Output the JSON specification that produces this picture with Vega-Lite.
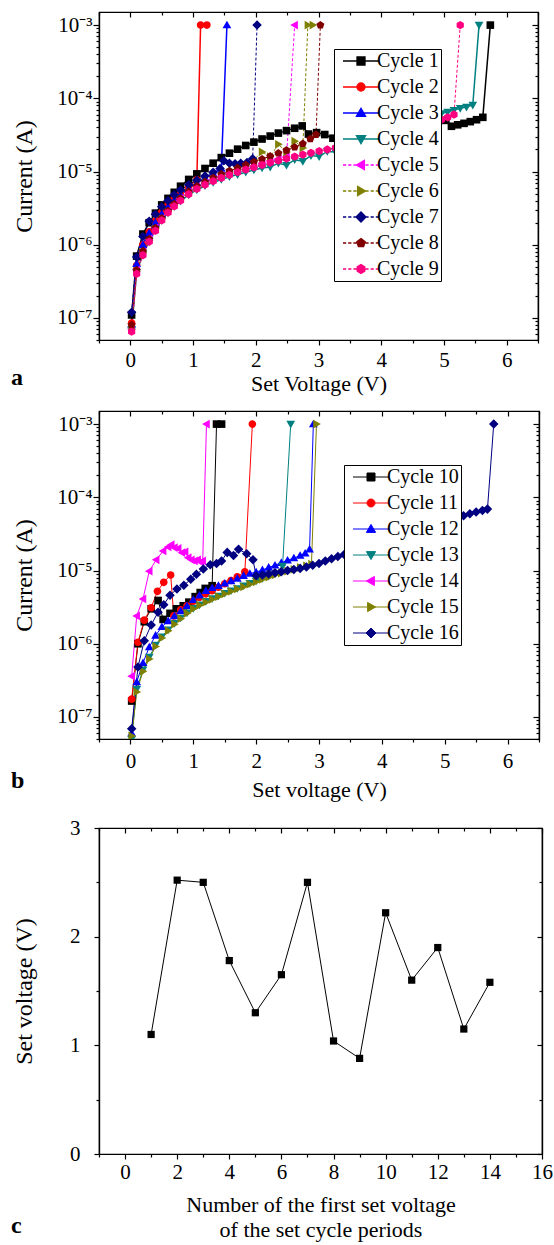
{
"$schema": "https://vega.github.io/schema/vega-lite/v6.json",
"padding": {"left": 10, "top": 10, "right": 5, "bottom": 0},
"datasets": {
"a": [
{"cycle":"Cycle 1","v":0.02,"i":1.1e-7},{"cycle":"Cycle 1","v":0.1,"i":7.0e-7},{"cycle":"Cycle 1","v":0.2,"i":1.4e-6},{"cycle":"Cycle 1","v":0.3,"i":2.0e-6},{"cycle":"Cycle 1","v":0.4,"i":2.7e-6},{"cycle":"Cycle 1","v":0.5,"i":3.5e-6},{"cycle":"Cycle 1","v":0.6,"i":4.3e-6},{"cycle":"Cycle 1","v":0.7,"i":5.2e-6},{"cycle":"Cycle 1","v":0.8,"i":6.3e-6},{"cycle":"Cycle 1","v":0.93,"i":7.8e-6},{"cycle":"Cycle 1","v":1.06,"i":9.3e-6},{"cycle":"Cycle 1","v":1.19,"i":1.1e-5},{"cycle":"Cycle 1","v":1.32,"i":1.3e-5},{"cycle":"Cycle 1","v":1.45,"i":1.55e-5},{"cycle":"Cycle 1","v":1.58,"i":1.78e-5},{"cycle":"Cycle 1","v":1.71,"i":2.02e-5},{"cycle":"Cycle 1","v":1.84,"i":2.27e-5},{"cycle":"Cycle 1","v":1.97,"i":2.52e-5},{"cycle":"Cycle 1","v":2.1,"i":2.78e-5},{"cycle":"Cycle 1","v":2.23,"i":3.05e-5},{"cycle":"Cycle 1","v":2.36,"i":3.35e-5},{"cycle":"Cycle 1","v":2.49,"i":3.62e-5},{"cycle":"Cycle 1","v":2.62,"i":3.9e-5},{"cycle":"Cycle 1","v":2.74,"i":4.2e-5},{"cycle":"Cycle 1","v":2.84,"i":3.25e-5},{"cycle":"Cycle 1","v":2.97,"i":3.4e-5},{"cycle":"Cycle 1","v":3.1,"i":3.2e-5},{"cycle":"Cycle 1","v":3.23,"i":2.85e-5},{"cycle":"Cycle 1","v":3.36,"i":2.9e-5},{"cycle":"Cycle 1","v":3.49,"i":3.0e-5},{"cycle":"Cycle 1","v":3.62,"i":3.1e-5},{"cycle":"Cycle 1","v":3.75,"i":3.25e-5},{"cycle":"Cycle 1","v":3.88,"i":3.4e-5},{"cycle":"Cycle 1","v":4.01,"i":3.6e-5},{"cycle":"Cycle 1","v":4.14,"i":3.8e-5},{"cycle":"Cycle 1","v":4.27,"i":4.0e-5},{"cycle":"Cycle 1","v":4.4,"i":4.2e-5},{"cycle":"Cycle 1","v":4.53,"i":4.4e-5},{"cycle":"Cycle 1","v":4.66,"i":4.6e-5},{"cycle":"Cycle 1","v":4.79,"i":4.8e-5},{"cycle":"Cycle 1","v":4.92,"i":5.0e-5},{"cycle":"Cycle 1","v":5.03,"i":5.0e-5},{"cycle":"Cycle 1","v":5.12,"i":4.15e-5},{"cycle":"Cycle 1","v":5.22,"i":4.35e-5},{"cycle":"Cycle 1","v":5.32,"i":4.55e-5},{"cycle":"Cycle 1","v":5.42,"i":4.8e-5},{"cycle":"Cycle 1","v":5.52,"i":5.1e-5},{"cycle":"Cycle 1","v":5.62,"i":5.5e-5},{"cycle":"Cycle 1","v":5.74,"i":1e-3},
{"cycle":"Cycle 2","v":0.02,"i":8.5e-8},{"cycle":"Cycle 2","v":0.1,"i":5.2e-7},{"cycle":"Cycle 2","v":0.2,"i":1.0e-6},{"cycle":"Cycle 2","v":0.3,"i":1.5e-6},{"cycle":"Cycle 2","v":0.4,"i":2.1e-6},{"cycle":"Cycle 2","v":0.5,"i":2.8e-6},{"cycle":"Cycle 2","v":0.6,"i":3.5e-6},{"cycle":"Cycle 2","v":0.7,"i":4.3e-6},{"cycle":"Cycle 2","v":0.8,"i":5.1e-6},{"cycle":"Cycle 2","v":0.93,"i":6.3e-6},{"cycle":"Cycle 2","v":1.06,"i":7.7e-6},{"cycle":"Cycle 2","v":1.12,"i":1e-3},{"cycle":"Cycle 2","v":1.22,"i":1e-3},
{"cycle":"Cycle 3","v":0.02,"i":8e-8},{"cycle":"Cycle 3","v":0.1,"i":5.5e-7},{"cycle":"Cycle 3","v":0.2,"i":1.0e-6},{"cycle":"Cycle 3","v":0.3,"i":1.45e-6},{"cycle":"Cycle 3","v":0.4,"i":2.0e-6},{"cycle":"Cycle 3","v":0.5,"i":2.65e-6},{"cycle":"Cycle 3","v":0.6,"i":3.3e-6},{"cycle":"Cycle 3","v":0.7,"i":4.0e-6},{"cycle":"Cycle 3","v":0.8,"i":4.8e-6},{"cycle":"Cycle 3","v":0.93,"i":5.9e-6},{"cycle":"Cycle 3","v":1.06,"i":7.0e-6},{"cycle":"Cycle 3","v":1.19,"i":8.2e-6},{"cycle":"Cycle 3","v":1.32,"i":9.5e-6},{"cycle":"Cycle 3","v":1.45,"i":1.1e-5},{"cycle":"Cycle 3","v":1.54,"i":1e-3},
{"cycle":"Cycle 4","v":0.02,"i":7e-8},{"cycle":"Cycle 4","v":0.1,"i":4.2e-7},{"cycle":"Cycle 4","v":0.2,"i":7.5e-7},{"cycle":"Cycle 4","v":0.3,"i":1.12e-6},{"cycle":"Cycle 4","v":0.4,"i":1.6e-6},{"cycle":"Cycle 4","v":0.5,"i":2.15e-6},{"cycle":"Cycle 4","v":0.6,"i":2.75e-6},{"cycle":"Cycle 4","v":0.7,"i":3.35e-6},{"cycle":"Cycle 4","v":0.8,"i":3.95e-6},{"cycle":"Cycle 4","v":0.93,"i":4.8e-6},{"cycle":"Cycle 4","v":1.06,"i":5.6e-6},{"cycle":"Cycle 4","v":1.19,"i":6.4e-6},{"cycle":"Cycle 4","v":1.32,"i":7.1e-6},{"cycle":"Cycle 4","v":1.45,"i":7.8e-6},{"cycle":"Cycle 4","v":1.58,"i":8.5e-6},{"cycle":"Cycle 4","v":1.71,"i":9.1e-6},{"cycle":"Cycle 4","v":1.84,"i":9.8e-6},{"cycle":"Cycle 4","v":1.97,"i":1.05e-5},{"cycle":"Cycle 4","v":2.1,"i":1.12e-5},{"cycle":"Cycle 4","v":2.23,"i":1.15e-5},{"cycle":"Cycle 4","v":2.36,"i":1.3e-5},{"cycle":"Cycle 4","v":2.49,"i":1.22e-5},{"cycle":"Cycle 4","v":2.62,"i":1.45e-5},{"cycle":"Cycle 4","v":2.75,"i":1.38e-5},{"cycle":"Cycle 4","v":2.88,"i":1.65e-5},{"cycle":"Cycle 4","v":3.01,"i":1.6e-5},{"cycle":"Cycle 4","v":3.14,"i":1.88e-5},{"cycle":"Cycle 4","v":3.27,"i":1.85e-5},{"cycle":"Cycle 4","v":3.4,"i":2.2e-5},{"cycle":"Cycle 4","v":3.53,"i":2.35e-5},{"cycle":"Cycle 4","v":3.66,"i":2.55e-5},{"cycle":"Cycle 4","v":3.79,"i":2.75e-5},{"cycle":"Cycle 4","v":3.92,"i":3.0e-5},{"cycle":"Cycle 4","v":4.05,"i":3.25e-5},{"cycle":"Cycle 4","v":4.18,"i":3.55e-5},{"cycle":"Cycle 4","v":4.31,"i":3.9e-5},{"cycle":"Cycle 4","v":4.44,"i":4.25e-5},{"cycle":"Cycle 4","v":4.57,"i":4.65e-5},{"cycle":"Cycle 4","v":4.7,"i":5.1e-5},{"cycle":"Cycle 4","v":4.83,"i":5.6e-5},{"cycle":"Cycle 4","v":4.96,"i":6.2e-5},{"cycle":"Cycle 4","v":5.06,"i":6.5e-5},{"cycle":"Cycle 4","v":5.16,"i":6.9e-5},{"cycle":"Cycle 4","v":5.26,"i":7.3e-5},{"cycle":"Cycle 4","v":5.36,"i":7.6e-5},{"cycle":"Cycle 4","v":5.46,"i":8.1e-5},{"cycle":"Cycle 4","v":5.56,"i":1e-3},
{"cycle":"Cycle 5","v":0.02,"i":7e-8},{"cycle":"Cycle 5","v":0.1,"i":4.5e-7},{"cycle":"Cycle 5","v":0.2,"i":8e-7},{"cycle":"Cycle 5","v":0.3,"i":1.2e-6},{"cycle":"Cycle 5","v":0.4,"i":1.7e-6},{"cycle":"Cycle 5","v":0.5,"i":2.3e-6},{"cycle":"Cycle 5","v":0.6,"i":2.9e-6},{"cycle":"Cycle 5","v":0.7,"i":3.6e-6},{"cycle":"Cycle 5","v":0.8,"i":4.3e-6},{"cycle":"Cycle 5","v":0.93,"i":5.2e-6},{"cycle":"Cycle 5","v":1.06,"i":6.1e-6},{"cycle":"Cycle 5","v":1.19,"i":7.0e-6},{"cycle":"Cycle 5","v":1.32,"i":7.8e-6},{"cycle":"Cycle 5","v":1.45,"i":8.6e-6},{"cycle":"Cycle 5","v":1.58,"i":9.5e-6},{"cycle":"Cycle 5","v":1.71,"i":1.03e-5},{"cycle":"Cycle 5","v":1.84,"i":1.12e-5},{"cycle":"Cycle 5","v":1.97,"i":1.2e-5},{"cycle":"Cycle 5","v":2.1,"i":1.3e-5},{"cycle":"Cycle 5","v":2.23,"i":1.4e-5},{"cycle":"Cycle 5","v":2.36,"i":1.5e-5},{"cycle":"Cycle 5","v":2.49,"i":1.6e-5},{"cycle":"Cycle 5","v":2.62,"i":1e-3},
{"cycle":"Cycle 6","v":0.02,"i":7e-8},{"cycle":"Cycle 6","v":0.1,"i":4.3e-7},{"cycle":"Cycle 6","v":0.2,"i":7.8e-7},{"cycle":"Cycle 6","v":0.3,"i":1.15e-6},{"cycle":"Cycle 6","v":0.4,"i":1.65e-6},{"cycle":"Cycle 6","v":0.5,"i":2.25e-6},{"cycle":"Cycle 6","v":0.6,"i":2.85e-6},{"cycle":"Cycle 6","v":0.7,"i":3.5e-6},{"cycle":"Cycle 6","v":0.8,"i":4.2e-6},{"cycle":"Cycle 6","v":0.93,"i":5.1e-6},{"cycle":"Cycle 6","v":1.06,"i":6.0e-6},{"cycle":"Cycle 6","v":1.19,"i":6.9e-6},{"cycle":"Cycle 6","v":1.32,"i":7.8e-6},{"cycle":"Cycle 6","v":1.45,"i":8.7e-6},{"cycle":"Cycle 6","v":1.58,"i":9.6e-6},{"cycle":"Cycle 6","v":1.71,"i":1.06e-5},{"cycle":"Cycle 6","v":1.84,"i":1.2e-5},{"cycle":"Cycle 6","v":1.97,"i":1.45e-5},{"cycle":"Cycle 6","v":2.1,"i":1.85e-5},{"cycle":"Cycle 6","v":2.23,"i":1.6e-5},{"cycle":"Cycle 6","v":2.36,"i":2.35e-5},{"cycle":"Cycle 6","v":2.49,"i":1.85e-5},{"cycle":"Cycle 6","v":2.62,"i":2.6e-5},{"cycle":"Cycle 6","v":2.75,"i":2.1e-5},{"cycle":"Cycle 6","v":2.83,"i":1e-3},{"cycle":"Cycle 6","v":2.91,"i":1e-3},
{"cycle":"Cycle 7","v":0.02,"i":1.2e-7},{"cycle":"Cycle 7","v":0.1,"i":6.8e-7},{"cycle":"Cycle 7","v":0.2,"i":1.3e-6},{"cycle":"Cycle 7","v":0.3,"i":2.1e-6},{"cycle":"Cycle 7","v":0.4,"i":2.6e-6},{"cycle":"Cycle 7","v":0.5,"i":3.3e-6},{"cycle":"Cycle 7","v":0.6,"i":4.0e-6},{"cycle":"Cycle 7","v":0.7,"i":4.8e-6},{"cycle":"Cycle 7","v":0.8,"i":5.6e-6},{"cycle":"Cycle 7","v":0.93,"i":6.6e-6},{"cycle":"Cycle 7","v":1.06,"i":7.6e-6},{"cycle":"Cycle 7","v":1.19,"i":8.7e-6},{"cycle":"Cycle 7","v":1.32,"i":9.8e-6},{"cycle":"Cycle 7","v":1.43,"i":1.1e-5},{"cycle":"Cycle 7","v":1.49,"i":1.4e-5},{"cycle":"Cycle 7","v":1.58,"i":1.3e-5},{"cycle":"Cycle 7","v":1.67,"i":1.28e-5},{"cycle":"Cycle 7","v":1.76,"i":1.3e-5},{"cycle":"Cycle 7","v":1.86,"i":1.33e-5},{"cycle":"Cycle 7","v":1.95,"i":1.5e-5},{"cycle":"Cycle 7","v":2.02,"i":1e-3},
{"cycle":"Cycle 8","v":0.02,"i":8e-8},{"cycle":"Cycle 8","v":0.1,"i":4.5e-7},{"cycle":"Cycle 8","v":0.2,"i":8.2e-7},{"cycle":"Cycle 8","v":0.3,"i":1.2e-6},{"cycle":"Cycle 8","v":0.4,"i":1.7e-6},{"cycle":"Cycle 8","v":0.5,"i":2.3e-6},{"cycle":"Cycle 8","v":0.6,"i":2.9e-6},{"cycle":"Cycle 8","v":0.7,"i":3.6e-6},{"cycle":"Cycle 8","v":0.8,"i":4.3e-6},{"cycle":"Cycle 8","v":0.93,"i":5.3e-6},{"cycle":"Cycle 8","v":1.06,"i":6.3e-6},{"cycle":"Cycle 8","v":1.19,"i":7.2e-6},{"cycle":"Cycle 8","v":1.32,"i":8.2e-6},{"cycle":"Cycle 8","v":1.45,"i":9.2e-6},{"cycle":"Cycle 8","v":1.58,"i":1.02e-5},{"cycle":"Cycle 8","v":1.71,"i":1.12e-5},{"cycle":"Cycle 8","v":1.84,"i":1.23e-5},{"cycle":"Cycle 8","v":1.97,"i":1.35e-5},{"cycle":"Cycle 8","v":2.1,"i":1.48e-5},{"cycle":"Cycle 8","v":2.23,"i":1.62e-5},{"cycle":"Cycle 8","v":2.36,"i":1.78e-5},{"cycle":"Cycle 8","v":2.49,"i":1.95e-5},{"cycle":"Cycle 8","v":2.62,"i":2.15e-5},{"cycle":"Cycle 8","v":2.75,"i":2.4e-5},{"cycle":"Cycle 8","v":2.87,"i":2.8e-5},{"cycle":"Cycle 8","v":2.96,"i":3.2e-5},{"cycle":"Cycle 8","v":3.03,"i":1e-3},
{"cycle":"Cycle 9","v":0.02,"i":6.5e-8},{"cycle":"Cycle 9","v":0.1,"i":4.0e-7},{"cycle":"Cycle 9","v":0.2,"i":7.2e-7},{"cycle":"Cycle 9","v":0.3,"i":1.1e-6},{"cycle":"Cycle 9","v":0.4,"i":1.55e-6},{"cycle":"Cycle 9","v":0.5,"i":2.15e-6},{"cycle":"Cycle 9","v":0.6,"i":2.75e-6},{"cycle":"Cycle 9","v":0.7,"i":3.35e-6},{"cycle":"Cycle 9","v":0.8,"i":4.0e-6},{"cycle":"Cycle 9","v":0.93,"i":4.9e-6},{"cycle":"Cycle 9","v":1.06,"i":5.8e-6},{"cycle":"Cycle 9","v":1.19,"i":6.6e-6},{"cycle":"Cycle 9","v":1.32,"i":7.4e-6},{"cycle":"Cycle 9","v":1.45,"i":8.2e-6},{"cycle":"Cycle 9","v":1.58,"i":9.0e-6},{"cycle":"Cycle 9","v":1.71,"i":9.8e-6},{"cycle":"Cycle 9","v":1.84,"i":1.06e-5},{"cycle":"Cycle 9","v":1.97,"i":1.14e-5},{"cycle":"Cycle 9","v":2.1,"i":1.23e-5},{"cycle":"Cycle 9","v":2.23,"i":1.32e-5},{"cycle":"Cycle 9","v":2.36,"i":1.41e-5},{"cycle":"Cycle 9","v":2.49,"i":1.5e-5},{"cycle":"Cycle 9","v":2.62,"i":1.6e-5},{"cycle":"Cycle 9","v":2.75,"i":1.7e-5},{"cycle":"Cycle 9","v":2.88,"i":1.8e-5},{"cycle":"Cycle 9","v":3.01,"i":1.9e-5},{"cycle":"Cycle 9","v":3.14,"i":2.0e-5},{"cycle":"Cycle 9","v":3.27,"i":2.1e-5},{"cycle":"Cycle 9","v":3.4,"i":2.22e-5},{"cycle":"Cycle 9","v":3.53,"i":2.36e-5},{"cycle":"Cycle 9","v":3.66,"i":2.5e-5},{"cycle":"Cycle 9","v":3.79,"i":2.65e-5},{"cycle":"Cycle 9","v":3.92,"i":2.82e-5},{"cycle":"Cycle 9","v":4.05,"i":3.0e-5},{"cycle":"Cycle 9","v":4.18,"i":3.2e-5},{"cycle":"Cycle 9","v":4.31,"i":3.42e-5},{"cycle":"Cycle 9","v":4.44,"i":3.66e-5},{"cycle":"Cycle 9","v":4.57,"i":3.92e-5},{"cycle":"Cycle 9","v":4.7,"i":4.25e-5},{"cycle":"Cycle 9","v":4.83,"i":4.6e-5},{"cycle":"Cycle 9","v":4.96,"i":5.1e-5},{"cycle":"Cycle 9","v":5.06,"i":5.5e-5},{"cycle":"Cycle 9","v":5.16,"i":6.0e-5},{"cycle":"Cycle 9","v":5.26,"i":1e-3}
],
"b": [
{"cycle":"Cycle 10","v":0.02,"i":1.65e-7},{"cycle":"Cycle 10","v":0.12,"i":1.0e-6},{"cycle":"Cycle 10","v":0.22,"i":2.0e-6},{"cycle":"Cycle 10","v":0.33,"i":3.0e-6},{"cycle":"Cycle 10","v":0.44,"i":3.9e-6},{"cycle":"Cycle 10","v":0.52,"i":2.15e-6},{"cycle":"Cycle 10","v":0.63,"i":2.6e-6},{"cycle":"Cycle 10","v":0.73,"i":3.0e-6},{"cycle":"Cycle 10","v":0.84,"i":3.3e-6},{"cycle":"Cycle 10","v":0.93,"i":3.7e-6},{"cycle":"Cycle 10","v":1.03,"i":4.4e-6},{"cycle":"Cycle 10","v":1.11,"i":5.0e-6},{"cycle":"Cycle 10","v":1.19,"i":5.7e-6},{"cycle":"Cycle 10","v":1.3,"i":6.2e-6},{"cycle":"Cycle 10","v":1.37,"i":1e-3},{"cycle":"Cycle 10","v":1.45,"i":1e-3},
{"cycle":"Cycle 11","v":0.02,"i":1.75e-7},{"cycle":"Cycle 11","v":0.12,"i":1.05e-6},{"cycle":"Cycle 11","v":0.22,"i":2.1e-6},{"cycle":"Cycle 11","v":0.33,"i":3.1e-6},{"cycle":"Cycle 11","v":0.43,"i":5.2e-6},{"cycle":"Cycle 11","v":0.53,"i":6.9e-6},{"cycle":"Cycle 11","v":0.64,"i":8.7e-6},{"cycle":"Cycle 11","v":0.69,"i":2.4e-6},{"cycle":"Cycle 11","v":0.8,"i":2.9e-6},{"cycle":"Cycle 11","v":0.9,"i":3.3e-6},{"cycle":"Cycle 11","v":1.0,"i":3.8e-6},{"cycle":"Cycle 11","v":1.1,"i":4.3e-6},{"cycle":"Cycle 11","v":1.2,"i":4.8e-6},{"cycle":"Cycle 11","v":1.3,"i":5.3e-6},{"cycle":"Cycle 11","v":1.4,"i":5.9e-6},{"cycle":"Cycle 11","v":1.5,"i":6.6e-6},{"cycle":"Cycle 11","v":1.6,"i":7.3e-6},{"cycle":"Cycle 11","v":1.7,"i":8.2e-6},{"cycle":"Cycle 11","v":1.82,"i":9.6e-6},{"cycle":"Cycle 11","v":1.94,"i":1e-3},
{"cycle":"Cycle 12","v":0.02,"i":6e-8},{"cycle":"Cycle 12","v":0.1,"i":3e-7},{"cycle":"Cycle 12","v":0.2,"i":5.5e-7},{"cycle":"Cycle 12","v":0.3,"i":9e-7},{"cycle":"Cycle 12","v":0.4,"i":1.3e-6},{"cycle":"Cycle 12","v":0.5,"i":1.7e-6},{"cycle":"Cycle 12","v":0.6,"i":2.05e-6},{"cycle":"Cycle 12","v":0.7,"i":2.4e-6},{"cycle":"Cycle 12","v":0.8,"i":2.8e-6},{"cycle":"Cycle 12","v":0.9,"i":3.3e-6},{"cycle":"Cycle 12","v":1.0,"i":4.0e-6},{"cycle":"Cycle 12","v":1.1,"i":4.6e-6},{"cycle":"Cycle 12","v":1.2,"i":5.3e-6},{"cycle":"Cycle 12","v":1.3,"i":5.8e-6},{"cycle":"Cycle 12","v":1.4,"i":6.2e-6},{"cycle":"Cycle 12","v":1.5,"i":6.7e-6},{"cycle":"Cycle 12","v":1.6,"i":7.2e-6},{"cycle":"Cycle 12","v":1.7,"i":7.8e-6},{"cycle":"Cycle 12","v":1.8,"i":8.5e-6},{"cycle":"Cycle 12","v":1.9,"i":9.1e-6},{"cycle":"Cycle 12","v":2.0,"i":9.5e-6},{"cycle":"Cycle 12","v":2.1,"i":1.02e-5},{"cycle":"Cycle 12","v":2.2,"i":1.1e-5},{"cycle":"Cycle 12","v":2.3,"i":1.18e-5},{"cycle":"Cycle 12","v":2.4,"i":1.28e-5},{"cycle":"Cycle 12","v":2.5,"i":1.38e-5},{"cycle":"Cycle 12","v":2.6,"i":1.48e-5},{"cycle":"Cycle 12","v":2.7,"i":1.6e-5},{"cycle":"Cycle 12","v":2.78,"i":1.72e-5},{"cycle":"Cycle 12","v":2.85,"i":1.95e-5},{"cycle":"Cycle 12","v":2.91,"i":1e-3},
{"cycle":"Cycle 13","v":0.02,"i":5e-8},{"cycle":"Cycle 13","v":0.1,"i":2.4e-7},{"cycle":"Cycle 13","v":0.2,"i":4.4e-7},{"cycle":"Cycle 13","v":0.3,"i":6.6e-7},{"cycle":"Cycle 13","v":0.4,"i":9.6e-7},{"cycle":"Cycle 13","v":0.5,"i":1.25e-6},{"cycle":"Cycle 13","v":0.6,"i":1.55e-6},{"cycle":"Cycle 13","v":0.7,"i":1.9e-6},{"cycle":"Cycle 13","v":0.8,"i":2.25e-6},{"cycle":"Cycle 13","v":0.9,"i":2.65e-6},{"cycle":"Cycle 13","v":1.0,"i":3.05e-6},{"cycle":"Cycle 13","v":1.1,"i":3.4e-6},{"cycle":"Cycle 13","v":1.2,"i":3.8e-6},{"cycle":"Cycle 13","v":1.3,"i":4.15e-6},{"cycle":"Cycle 13","v":1.4,"i":4.5e-6},{"cycle":"Cycle 13","v":1.5,"i":4.9e-6},{"cycle":"Cycle 13","v":1.6,"i":5.3e-6},{"cycle":"Cycle 13","v":1.7,"i":5.7e-6},{"cycle":"Cycle 13","v":1.8,"i":6.2e-6},{"cycle":"Cycle 13","v":1.9,"i":6.7e-6},{"cycle":"Cycle 13","v":2.0,"i":7.2e-6},{"cycle":"Cycle 13","v":2.1,"i":7.8e-6},{"cycle":"Cycle 13","v":2.2,"i":8.4e-6},{"cycle":"Cycle 13","v":2.3,"i":9.0e-6},{"cycle":"Cycle 13","v":2.42,"i":1.15e-5},{"cycle":"Cycle 13","v":2.55,"i":1e-3},
{"cycle":"Cycle 14","v":0.02,"i":3.6e-7},{"cycle":"Cycle 14","v":0.1,"i":2.4e-6},{"cycle":"Cycle 14","v":0.2,"i":4.1e-6},{"cycle":"Cycle 14","v":0.3,"i":9.8e-6},{"cycle":"Cycle 14","v":0.41,"i":1.4e-5},{"cycle":"Cycle 14","v":0.52,"i":1.85e-5},{"cycle":"Cycle 14","v":0.6,"i":2.1e-5},{"cycle":"Cycle 14","v":0.65,"i":2.25e-5},{"cycle":"Cycle 14","v":0.7,"i":2.05e-5},{"cycle":"Cycle 14","v":0.76,"i":2.0e-5},{"cycle":"Cycle 14","v":0.82,"i":1.75e-5},{"cycle":"Cycle 14","v":0.87,"i":1.8e-5},{"cycle":"Cycle 14","v":0.92,"i":1.5e-5},{"cycle":"Cycle 14","v":0.97,"i":1.4e-5},{"cycle":"Cycle 14","v":1.02,"i":1.35e-5},{"cycle":"Cycle 14","v":1.07,"i":1.4e-5},{"cycle":"Cycle 14","v":1.12,"i":1.3e-5},{"cycle":"Cycle 14","v":1.15,"i":1.35e-5},{"cycle":"Cycle 14","v":1.21,"i":1e-3},
{"cycle":"Cycle 15","v":0.02,"i":5.5e-8},{"cycle":"Cycle 15","v":0.1,"i":2.2e-7},{"cycle":"Cycle 15","v":0.2,"i":4.2e-7},{"cycle":"Cycle 15","v":0.3,"i":6.2e-7},{"cycle":"Cycle 15","v":0.4,"i":9.2e-7},{"cycle":"Cycle 15","v":0.5,"i":1.2e-6},{"cycle":"Cycle 15","v":0.6,"i":1.5e-6},{"cycle":"Cycle 15","v":0.7,"i":1.85e-6},{"cycle":"Cycle 15","v":0.8,"i":2.2e-6},{"cycle":"Cycle 15","v":0.9,"i":2.6e-6},{"cycle":"Cycle 15","v":1.0,"i":3.0e-6},{"cycle":"Cycle 15","v":1.1,"i":3.35e-6},{"cycle":"Cycle 15","v":1.2,"i":3.7e-6},{"cycle":"Cycle 15","v":1.3,"i":4.05e-6},{"cycle":"Cycle 15","v":1.4,"i":4.4e-6},{"cycle":"Cycle 15","v":1.5,"i":4.8e-6},{"cycle":"Cycle 15","v":1.6,"i":5.2e-6},{"cycle":"Cycle 15","v":1.7,"i":5.6e-6},{"cycle":"Cycle 15","v":1.8,"i":6.0e-6},{"cycle":"Cycle 15","v":1.9,"i":6.5e-6},{"cycle":"Cycle 15","v":2.0,"i":7.0e-6},{"cycle":"Cycle 15","v":2.1,"i":7.6e-6},{"cycle":"Cycle 15","v":2.2,"i":8.1e-6},{"cycle":"Cycle 15","v":2.3,"i":8.7e-6},{"cycle":"Cycle 15","v":2.4,"i":9.2e-6},{"cycle":"Cycle 15","v":2.5,"i":9.8e-6},{"cycle":"Cycle 15","v":2.6,"i":1.04e-5},{"cycle":"Cycle 15","v":2.7,"i":1.1e-5},{"cycle":"Cycle 15","v":2.8,"i":1.16e-5},{"cycle":"Cycle 15","v":2.88,"i":1.22e-5},{"cycle":"Cycle 15","v":2.96,"i":1e-3},
{"cycle":"Cycle 16","v":0.02,"i":6.9e-8},{"cycle":"Cycle 16","v":0.12,"i":4.8e-7},{"cycle":"Cycle 16","v":0.22,"i":1.1e-6},{"cycle":"Cycle 16","v":0.33,"i":1.8e-6},{"cycle":"Cycle 16","v":0.44,"i":2.7e-6},{"cycle":"Cycle 16","v":0.53,"i":3.4e-6},{"cycle":"Cycle 16","v":0.63,"i":4.6e-6},{"cycle":"Cycle 16","v":0.74,"i":5.6e-6},{"cycle":"Cycle 16","v":0.85,"i":6.3e-6},{"cycle":"Cycle 16","v":0.96,"i":7.6e-6},{"cycle":"Cycle 16","v":1.05,"i":8.9e-6},{"cycle":"Cycle 16","v":1.16,"i":1.05e-5},{"cycle":"Cycle 16","v":1.27,"i":1.2e-5},{"cycle":"Cycle 16","v":1.37,"i":1.25e-5},{"cycle":"Cycle 16","v":1.45,"i":1.35e-5},{"cycle":"Cycle 16","v":1.54,"i":1.77e-5},{"cycle":"Cycle 16","v":1.64,"i":1.6e-5},{"cycle":"Cycle 16","v":1.72,"i":1.95e-5},{"cycle":"Cycle 16","v":1.85,"i":1.7e-5},{"cycle":"Cycle 16","v":1.95,"i":1.4e-5},{"cycle":"Cycle 16","v":2.0,"i":8.5e-6},{"cycle":"Cycle 16","v":2.1,"i":8.7e-6},{"cycle":"Cycle 16","v":2.2,"i":9.0e-6},{"cycle":"Cycle 16","v":2.3,"i":9.3e-6},{"cycle":"Cycle 16","v":2.4,"i":9.6e-6},{"cycle":"Cycle 16","v":2.5,"i":1.0e-5},{"cycle":"Cycle 16","v":2.6,"i":1.03e-5},{"cycle":"Cycle 16","v":2.7,"i":1.07e-5},{"cycle":"Cycle 16","v":2.8,"i":1.12e-5},{"cycle":"Cycle 16","v":2.9,"i":1.18e-5},{"cycle":"Cycle 16","v":3.0,"i":1.25e-5},{"cycle":"Cycle 16","v":3.1,"i":1.35e-5},{"cycle":"Cycle 16","v":3.2,"i":1.45e-5},{"cycle":"Cycle 16","v":3.3,"i":1.55e-5},{"cycle":"Cycle 16","v":3.4,"i":1.66e-5},{"cycle":"Cycle 16","v":3.5,"i":1.78e-5},{"cycle":"Cycle 16","v":3.6,"i":1.9e-5},{"cycle":"Cycle 16","v":3.7,"i":2.0e-5},{"cycle":"Cycle 16","v":3.8,"i":2.15e-5},{"cycle":"Cycle 16","v":3.9,"i":2.3e-5},{"cycle":"Cycle 16","v":4.0,"i":2.45e-5},{"cycle":"Cycle 16","v":4.1,"i":2.6e-5},{"cycle":"Cycle 16","v":4.2,"i":2.75e-5},{"cycle":"Cycle 16","v":4.3,"i":2.9e-5},{"cycle":"Cycle 16","v":4.4,"i":3.1e-5},{"cycle":"Cycle 16","v":4.5,"i":3.3e-5},{"cycle":"Cycle 16","v":4.6,"i":3.5e-5},{"cycle":"Cycle 16","v":4.7,"i":3.7e-5},{"cycle":"Cycle 16","v":4.8,"i":3.95e-5},{"cycle":"Cycle 16","v":4.9,"i":4.2e-5},{"cycle":"Cycle 16","v":5.0,"i":4.5e-5},{"cycle":"Cycle 16","v":5.1,"i":4.8e-5},{"cycle":"Cycle 16","v":5.2,"i":5.2e-5},{"cycle":"Cycle 16","v":5.3,"i":5.6e-5},{"cycle":"Cycle 16","v":5.4,"i":5.95e-5},{"cycle":"Cycle 16","v":5.5,"i":6.3e-5},{"cycle":"Cycle 16","v":5.6,"i":6.6e-5},{"cycle":"Cycle 16","v":5.68,"i":6.9e-5},{"cycle":"Cycle 16","v":5.78,"i":1e-3}
],
"c": [
{"n":1,"sv":1.1},{"n":2,"sv":2.52},{"n":3,"sv":2.5},{"n":4,"sv":1.78},{"n":5,"sv":1.3},{"n":6,"sv":1.65},{"n":7,"sv":2.5},{"n":8,"sv":1.04},{"n":9,"sv":0.88},{"n":10,"sv":2.22},{"n":11,"sv":1.6},{"n":12,"sv":1.9},{"n":13,"sv":1.15},{"n":14,"sv":1.58}
]
},
"vconcat": [
{"vconcat": [
{
"width": 439, "height": 328,
"data": {"name": "a"},
"title": {"text": "a", "orient": "bottom", "anchor": "start", "frame": "group", "dx": -88, "offset": -28, "fontSize": 24, "fontWeight": "bold", "font": "Liberation Serif", "color": "black"},
"layer": [
{"transform": [{"filter": "indexof(['Cycle 1','Cycle 2','Cycle 3','Cycle 4'], datum.cycle) >= 0"}],
"mark": {"type": "line", "strokeWidth": 1.5, "clip": true},
"encoding": {
"x": {"field": "v", "type": "quantitative", "scale": {"domain": [-0.5, 6.5], "nice": false, "zero": false}, "axis": {"orient": "bottom", "values": [0,1,2,3,4,5,6], "tickSize": 5, "labelFontSize": 21, "labelPadding": 4, "title": "Set Voltage (V)", "titleFontSize": 22, "titlePadding": 3}},
"y": {"field": "i", "type": "quantitative", "scale": {"type": "log", "domain": [5e-8, 1.51e-3], "nice": false}, "axis": {"orient": "left", "values": [1e-7,1e-6,1e-5,1e-4,1e-3], "tickSize": 6, "labelFontSize": 21, "labelPadding": 1, "labelExpr": "datum.value < 5e-7 ? '10⁻⁷' : datum.value < 5e-6 ? '10⁻⁶' : datum.value < 5e-5 ? '10⁻⁵' : datum.value < 5e-4 ? '10⁻⁴' : '10⁻³'", "title": "Current (A)", "titleFontSize": 24, "titlePadding": 20}},
"color": {"field": "cycle", "type": "nominal", "scale": {"domain": ["Cycle 1","Cycle 2","Cycle 3","Cycle 4","Cycle 5","Cycle 6","Cycle 7","Cycle 8","Cycle 9"], "range": ["#000000","#FF0000","#0000FF","#008080","#FF00FF","#808000","#000080","#800000","#FF0080"]}, "legend": null}
}},
{"transform": [{"filter": "indexof(['Cycle 1','Cycle 2','Cycle 3','Cycle 4'], datum.cycle) < 0"}],
"mark": {"type": "line", "strokeWidth": 1, "strokeDash": [3, 2], "clip": true},
"encoding": {
"x": {"field": "v", "type": "quantitative", "scale": {"domain": [-0.5, 6.5], "nice": false, "zero": false}, "axis": null},
"y": {"field": "i", "type": "quantitative", "scale": {"type": "log", "domain": [5e-8, 1.51e-3], "nice": false}, "axis": null},
"color": {"field": "cycle", "type": "nominal", "scale": {"domain": ["Cycle 1","Cycle 2","Cycle 3","Cycle 4","Cycle 5","Cycle 6","Cycle 7","Cycle 8","Cycle 9"], "range": ["#000000","#FF0000","#0000FF","#008080","#FF00FF","#808000","#000080","#800000","#FF0080"]}, "legend": null}
}},
{"mark": {"type": "point", "filled": true, "opacity": 1, "size": 58, "clip": true},
"encoding": {
"x": {"field": "v", "type": "quantitative", "scale": {"domain": [-0.5, 6.5], "nice": false, "zero": false}, "axis": {"orient": "top", "values": [0,1,2,3,4,5,6], "tickSize": -5, "labels": false, "title": null}},
"y": {"field": "i", "type": "quantitative", "scale": {"type": "log", "domain": [5e-8, 1.51e-3], "nice": false}, "axis": {"orient": "right", "values": [1e-7,1e-6,1e-5,1e-4,1e-3], "tickSize": -6, "labels": false, "title": null}},
"color": {"field": "cycle", "type": "nominal", "scale": {"domain": ["Cycle 1","Cycle 2","Cycle 3","Cycle 4","Cycle 5","Cycle 6","Cycle 7","Cycle 8","Cycle 9"], "range": ["#000000","#FF0000","#0000FF","#008080","#FF00FF","#808000","#000080","#800000","#FF0080"]}, "legend": null},
"shape": {"field": "cycle", "type": "nominal", "scale": {"domain": ["Cycle 1","Cycle 2","Cycle 3","Cycle 4","Cycle 5","Cycle 6","Cycle 7","Cycle 8","Cycle 9"], "range": ["M-1,-1H1V1H-1Z","M-1,0A1,1,0,1,1,1,0A1,1,0,1,1,-1,0Z","M0,-1.15L1.15,0.85H-1.15Z","M0,1.15L1.15,-0.85H-1.15Z","M-1.15,0L0.85,-1.15V1.15Z","M1.15,0L-0.85,-1.15V1.15Z","M0,-1.25L1.25,0L0,1.25L-1.25,0Z","M0,-1.1L1.05,-0.34L0.65,0.89L-0.65,0.89L-1.05,-0.34Z","M0,-1.1L0.95,-0.55L0.95,0.55L0,1.1L-0.95,0.55L-0.95,-0.55Z"]}, "legend": null}
}},
{"transform": [{"filter": "false"}],
"mark": {"type": "point", "filled": true, "opacity": 1, "strokeWidth": 1.3},
"encoding": {
"x": {"field": "v", "type": "quantitative", "scale": {"domain": [-0.5, 6.5], "nice": false, "zero": false}, "axis": {"orient": "bottom", "values": [-0.5,0.5,1.5,2.5,3.5,4.5,5.5,6.5], "tickSize": 3, "labels": false, "title": null}},
"y": {"field": "i", "type": "quantitative", "scale": {"type": "log", "domain": [5e-8, 1.51e-3], "nice": false}, "axis": {"orient": "left", "values": [5e-8,6e-8,7e-8,8e-8,9e-8,2e-7,3e-7,4e-7,5e-7,6e-7,7e-7,8e-7,9e-7,2e-6,3e-6,4e-6,5e-6,6e-6,7e-6,8e-6,9e-6,2e-5,3e-5,4e-5,5e-5,6e-5,7e-5,8e-5,9e-5,2e-4,3e-4,4e-4,5e-4,6e-4,7e-4,8e-4,9e-4], "tickSize": 3, "labels": false, "title": null}},
"color": {"field": "cycle", "type": "nominal", "scale": {"domain": ["Cycle 1","Cycle 2","Cycle 3","Cycle 4","Cycle 5","Cycle 6","Cycle 7","Cycle 8","Cycle 9"], "range": ["#000000","#FF0000","#0000FF","#008080","#FF00FF","#808000","#000080","#800000","#FF0080"]}, "legend": {"orient": "none", "legendX": 235, "legendY": 37, "title": null, "labelFont": "Liberation Serif", "labelFontSize": 20, "labelColor": "black", "symbolSize": 64, "symbolOffset": 15, "labelOffset": 6, "rowPadding": 6, "padding": 2, "strokeColor": "black", "fillColor": "white", "symbolStrokeWidth": 1.3, "labelLimit": 300}},
"stroke": {"field": "cycle", "type": "nominal", "scale": {"domain": ["Cycle 1","Cycle 2","Cycle 3","Cycle 4","Cycle 5","Cycle 6","Cycle 7","Cycle 8","Cycle 9"], "range": ["#000000","#FF0000","#0000FF","#008080","#FF00FF","#808000","#000080","#800000","#FF0080"]}, "legend": {"orient": "none", "legendX": 235, "legendY": 37, "title": null, "labelFont": "Liberation Serif", "labelFontSize": 20, "labelColor": "black", "symbolSize": 64, "symbolOffset": 15, "labelOffset": 6, "rowPadding": 6, "padding": 2, "strokeColor": "black", "fillColor": "white", "symbolStrokeWidth": 1.3, "labelLimit": 300}},
"shape": {"field": "cycle", "type": "nominal", "scale": {"domain": ["Cycle 1","Cycle 2","Cycle 3","Cycle 4","Cycle 5","Cycle 6","Cycle 7","Cycle 8","Cycle 9"], "range": ["M-4.5,0H4.5M-1,-1H1V1H-1Z","M-4.5,0H4.5M-1,0A1,1,0,1,1,1,0A1,1,0,1,1,-1,0Z","M-4.5,0H4.5M0,-1.15L1.15,0.85H-1.15Z","M-4.5,0H4.5M0,1.15L1.15,-0.85H-1.15Z","M-4.5,0H-3.7M-3.2,0H-2.4M-1.9,0H-1.1M1.1,0H1.9M2.4,0H3.2M3.7,0H4.5M-1.15,0L0.85,-1.15V1.15Z","M-4.5,0H-3.7M-3.2,0H-2.4M-1.9,0H-1.1M1.1,0H1.9M2.4,0H3.2M3.7,0H4.5M1.15,0L-0.85,-1.15V1.15Z","M-4.5,0H-3.7M-3.2,0H-2.4M-1.9,0H-1.1M1.1,0H1.9M2.4,0H3.2M3.7,0H4.5M0,-1.25L1.25,0L0,1.25L-1.25,0Z","M-4.5,0H-3.7M-3.2,0H-2.4M-1.9,0H-1.1M1.1,0H1.9M2.4,0H3.2M3.7,0H4.5M0,-1.1L1.05,-0.34L0.65,0.89L-0.65,0.89L-1.05,-0.34Z","M-4.5,0H-3.7M-3.2,0H-2.4M-1.9,0H-1.1M1.1,0H1.9M2.4,0H3.2M3.7,0H4.5M0,-1.1L0.95,-0.55L0.95,0.55L0,1.1L-0.95,0.55L-0.95,-0.55Z"]}, "legend": {"orient": "none", "legendX": 235, "legendY": 37, "title": null, "labelFont": "Liberation Serif", "labelFontSize": 20, "labelColor": "black", "symbolSize": 64, "symbolOffset": 15, "labelOffset": 6, "rowPadding": 6, "padding": 2, "strokeColor": "black", "fillColor": "white", "symbolStrokeWidth": 1.3, "labelLimit": 300}}
}},
{"transform": [{"filter": "false"}],
"mark": {"type": "point"},
"encoding": {
"x": {"field": "v", "type": "quantitative", "scale": {"domain": [-0.5, 6.5], "nice": false, "zero": false}, "axis": {"orient": "top", "values": [-0.5,0.5,1.5,2.5,3.5,4.5,5.5,6.5], "tickSize": -3, "labels": false, "title": null}},
"y": {"field": "i", "type": "quantitative", "scale": {"type": "log", "domain": [5e-8, 1.51e-3], "nice": false}, "axis": {"orient": "right", "values": [5e-8,6e-8,7e-8,8e-8,9e-8,2e-7,3e-7,4e-7,5e-7,6e-7,7e-7,8e-7,9e-7,2e-6,3e-6,4e-6,5e-6,6e-6,7e-6,8e-6,9e-6,2e-5,3e-5,4e-5,5e-5,6e-5,7e-5,8e-5,9e-5,2e-4,3e-4,4e-4,5e-4,6e-4,7e-4,8e-4,9e-4], "tickSize": -3, "labels": false, "title": null}}
}}
],
"resolve": {"scale": {"color": "independent", "shape": "independent", "stroke": "independent"}, "axis": {"x": "independent", "y": "independent"}}
},
{
"width": 440, "height": 328,
"data": {"name": "b"},
"title": {"text": "b", "orient": "bottom", "anchor": "start", "frame": "group", "dx": -88, "offset": -31, "fontSize": 24, "fontWeight": "bold", "font": "Liberation Serif", "color": "black"},
"layer": [
{"mark": {"type": "line", "strokeWidth": 1, "clip": true},
"encoding": {
"x": {"field": "v", "type": "quantitative", "scale": {"domain": [-0.5, 6.5], "nice": false, "zero": false}, "axis": {"orient": "bottom", "values": [0,1,2,3,4,5,6], "tickSize": 5, "labelFontSize": 21, "labelPadding": 6.5, "title": "Set voltage (V)", "titleFontSize": 22, "titlePadding": 7.5}},
"y": {"field": "i", "type": "quantitative", "scale": {"type": "log", "domain": [5e-8, 1.51e-3], "nice": false}, "axis": {"orient": "left", "values": [1e-7,1e-6,1e-5,1e-4,1e-3], "tickSize": 6, "labelFontSize": 21, "labelPadding": 1, "labelExpr": "datum.value < 5e-7 ? '10⁻⁷' : datum.value < 5e-6 ? '10⁻⁶' : datum.value < 5e-5 ? '10⁻⁵' : datum.value < 5e-4 ? '10⁻⁴' : '10⁻³'", "title": "Current (A)", "titleFontSize": 24, "titlePadding": 20}},
"color": {"field": "cycle", "type": "nominal", "scale": {"domain": ["Cycle 10","Cycle 11","Cycle 12","Cycle 13","Cycle 14","Cycle 15","Cycle 16"], "range": ["#000000","#FF0000","#0000FF","#008080","#FF00FF","#808000","#000080"]}, "legend": null}
}},
{"mark": {"type": "point", "filled": true, "opacity": 1, "size": 58, "clip": true},
"encoding": {
"x": {"field": "v", "type": "quantitative", "scale": {"domain": [-0.5, 6.5], "nice": false, "zero": false}, "axis": {"orient": "top", "values": [0,1,2,3,4,5,6], "tickSize": -5, "labels": false, "title": null}},
"y": {"field": "i", "type": "quantitative", "scale": {"type": "log", "domain": [5e-8, 1.51e-3], "nice": false}, "axis": {"orient": "right", "values": [1e-7,1e-6,1e-5,1e-4,1e-3], "tickSize": -6, "labels": false, "title": null}},
"color": {"field": "cycle", "type": "nominal", "scale": {"domain": ["Cycle 10","Cycle 11","Cycle 12","Cycle 13","Cycle 14","Cycle 15","Cycle 16"], "range": ["#000000","#FF0000","#0000FF","#008080","#FF00FF","#808000","#000080"]}, "legend": null},
"shape": {"field": "cycle", "type": "nominal", "scale": {"domain": ["Cycle 10","Cycle 11","Cycle 12","Cycle 13","Cycle 14","Cycle 15","Cycle 16"], "range": ["M-1,-1H1V1H-1Z","M-1,0A1,1,0,1,1,1,0A1,1,0,1,1,-1,0Z","M0,-1.15L1.15,0.85H-1.15Z","M0,1.15L1.15,-0.85H-1.15Z","M-1.15,0L0.85,-1.15V1.15Z","M1.15,0L-0.85,-1.15V1.15Z","M0,-1.25L1.25,0L0,1.25L-1.25,0Z"]}, "legend": null}
}},
{"transform": [{"filter": "false"}],
"mark": {"type": "point", "filled": true, "opacity": 1, "strokeWidth": 1},
"encoding": {
"x": {"field": "v", "type": "quantitative", "scale": {"domain": [-0.5, 6.5], "nice": false, "zero": false}, "axis": {"orient": "bottom", "values": [-0.5,0.5,1.5,2.5,3.5,4.5,5.5,6.5], "tickSize": 3, "labels": false, "title": null}},
"y": {"field": "i", "type": "quantitative", "scale": {"type": "log", "domain": [5e-8, 1.51e-3], "nice": false}, "axis": {"orient": "left", "values": [5e-8,6e-8,7e-8,8e-8,9e-8,2e-7,3e-7,4e-7,5e-7,6e-7,7e-7,8e-7,9e-7,2e-6,3e-6,4e-6,5e-6,6e-6,7e-6,8e-6,9e-6,2e-5,3e-5,4e-5,5e-5,6e-5,7e-5,8e-5,9e-5,2e-4,3e-4,4e-4,5e-4,6e-4,7e-4,8e-4,9e-4], "tickSize": 3, "labels": false, "title": null}},
"color": {"field": "cycle", "type": "nominal", "scale": {"domain": ["Cycle 10","Cycle 11","Cycle 12","Cycle 13","Cycle 14","Cycle 15","Cycle 16"], "range": ["#000000","#FF0000","#0000FF","#008080","#FF00FF","#808000","#000080"]}, "legend": {"orient": "none", "legendX": 245, "legendY": 54, "title": null, "labelFont": "Liberation Serif", "labelFontSize": 20, "labelColor": "black", "symbolSize": 64, "symbolOffset": 15, "labelOffset": 6, "rowPadding": 6, "padding": 2, "strokeColor": "black", "fillColor": "white", "symbolStrokeWidth": 1, "labelLimit": 300}},
"stroke": {"field": "cycle", "type": "nominal", "scale": {"domain": ["Cycle 10","Cycle 11","Cycle 12","Cycle 13","Cycle 14","Cycle 15","Cycle 16"], "range": ["#000000","#FF0000","#0000FF","#008080","#FF00FF","#808000","#000080"]}, "legend": {"orient": "none", "legendX": 245, "legendY": 54, "title": null, "labelFont": "Liberation Serif", "labelFontSize": 20, "labelColor": "black", "symbolSize": 64, "symbolOffset": 15, "labelOffset": 6, "rowPadding": 6, "padding": 2, "strokeColor": "black", "fillColor": "white", "symbolStrokeWidth": 1, "labelLimit": 300}},
"shape": {"field": "cycle", "type": "nominal", "scale": {"domain": ["Cycle 10","Cycle 11","Cycle 12","Cycle 13","Cycle 14","Cycle 15","Cycle 16"], "range": ["M-4.5,0H4.5M-1,-1H1V1H-1Z","M-4.5,0H4.5M-1,0A1,1,0,1,1,1,0A1,1,0,1,1,-1,0Z","M-4.5,0H4.5M0,-1.15L1.15,0.85H-1.15Z","M-4.5,0H4.5M0,1.15L1.15,-0.85H-1.15Z","M-4.5,0H4.5M-1.15,0L0.85,-1.15V1.15Z","M-4.5,0H4.5M1.15,0L-0.85,-1.15V1.15Z","M-4.5,0H4.5M0,-1.25L1.25,0L0,1.25L-1.25,0Z"]}, "legend": {"orient": "none", "legendX": 245, "legendY": 54, "title": null, "labelFont": "Liberation Serif", "labelFontSize": 20, "labelColor": "black", "symbolSize": 64, "symbolOffset": 15, "labelOffset": 6, "rowPadding": 6, "padding": 2, "strokeColor": "black", "fillColor": "white", "symbolStrokeWidth": 1, "labelLimit": 300}}
}},
{"transform": [{"filter": "false"}],
"mark": {"type": "point"},
"encoding": {
"x": {"field": "v", "type": "quantitative", "scale": {"domain": [-0.5, 6.5], "nice": false, "zero": false}, "axis": {"orient": "top", "values": [-0.5,0.5,1.5,2.5,3.5,4.5,5.5,6.5], "tickSize": -3, "labels": false, "title": null}},
"y": {"field": "i", "type": "quantitative", "scale": {"type": "log", "domain": [5e-8, 1.51e-3], "nice": false}, "axis": {"orient": "right", "values": [5e-8,6e-8,7e-8,8e-8,9e-8,2e-7,3e-7,4e-7,5e-7,6e-7,7e-7,8e-7,9e-7,2e-6,3e-6,4e-6,5e-6,6e-6,7e-6,8e-6,9e-6,2e-5,3e-5,4e-5,5e-5,6e-5,7e-5,8e-5,9e-5,2e-4,3e-4,4e-4,5e-4,6e-4,7e-4,8e-4,9e-4], "tickSize": -3, "labels": false, "title": null}}
}}
],
"resolve": {"scale": {"color": "independent", "shape": "independent", "stroke": "independent"}, "axis": {"x": "independent", "y": "independent"}}
}
], "spacing": 14},
{
"width": 443, "height": 326,
"data": {"name": "c"},
"title": {"text": "c", "orient": "bottom", "anchor": "start", "frame": "group", "dx": -88, "offset": -27, "fontSize": 24, "fontWeight": "bold", "font": "Liberation Serif", "color": "black"},
"layer": [
{"mark": {"type": "line", "color": "black", "strokeWidth": 1},
"encoding": {
"x": {"field": "n", "type": "quantitative", "scale": {"domain": [-1, 16], "nice": false, "zero": false}, "axis": {"orient": "bottom", "values": [0,2,4,6,8,10,12,14,16], "tickSize": 5, "labelFontSize": 21, "labelPadding": 2.5, "title": ["Number of the first set voltage", "of the set cycle periods"], "titleFontSize": 22, "titleLineHeight": 25, "titlePadding": 12}},
"y": {"field": "sv", "type": "quantitative", "scale": {"domain": [0, 3], "nice": false}, "axis": {"orient": "left", "values": [0,1,2,3], "tickSize": 5, "labelFontSize": 21, "labelPadding": 14, "title": "Set voltage (V)", "titleFontSize": 24, "titlePadding": 33}}
}},
{"mark": {"type": "point", "shape": "square", "filled": true, "opacity": 1, "size": 52, "color": "black"},
"encoding": {
"x": {"field": "n", "type": "quantitative", "scale": {"domain": [-1, 16], "nice": false, "zero": false}, "axis": {"orient": "top", "values": [0,2,4,6,8,10,12,14,16], "tickSize": -5, "labels": false, "title": null}},
"y": {"field": "sv", "type": "quantitative", "scale": {"domain": [0, 3], "nice": false}, "axis": {"orient": "right", "values": [0,1,2,3], "tickSize": -5, "labels": false, "title": null}}
}},
{"transform": [{"filter": "false"}],
"mark": {"type": "point"},
"encoding": {
"x": {"field": "n", "type": "quantitative", "scale": {"domain": [-1, 16], "nice": false, "zero": false}, "axis": {"orient": "bottom", "values": [-1,1,3,5,7,9,11,13,15], "tickSize": 3, "labels": false, "title": null}},
"y": {"field": "sv", "type": "quantitative", "scale": {"domain": [0, 3], "nice": false}, "axis": {"orient": "left", "values": [0.5,1.5,2.5], "tickSize": 3, "labels": false, "title": null}}
}},
{"transform": [{"filter": "false"}],
"mark": {"type": "point"},
"encoding": {
"x": {"field": "n", "type": "quantitative", "scale": {"domain": [-1, 16], "nice": false, "zero": false}, "axis": {"orient": "top", "values": [-1,1,3,5,7,9,11,13,15], "tickSize": -3, "labels": false, "title": null}},
"y": {"field": "sv", "type": "quantitative", "scale": {"domain": [0, 3], "nice": false}, "axis": {"orient": "right", "values": [0.5,1.5,2.5], "tickSize": -3, "labels": false, "title": null}}
}}
],
"resolve": {"axis": {"x": "independent", "y": "independent"}}
}
],
"spacing": 15,
"config": {
"view": {"stroke": "black", "strokeWidth": 1.2},
"axis": {"grid": false, "domainColor": "black", "tickColor": "black", "labelColor": "black", "titleColor": "black", "labelFont": "Liberation Serif", "titleFont": "Liberation Serif", "titleFontWeight": "normal", "domainWidth": 1.2, "tickWidth": 1.2, "labelFlush": false, "labelOverlap": false}
}
}
